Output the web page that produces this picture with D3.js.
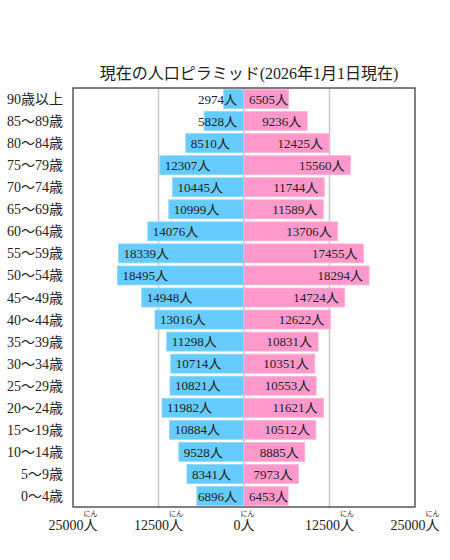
<!DOCTYPE html>
<html><head><meta charset="utf-8">
<script src="https://cdn.jsdelivr.net/npm/d3@7"></script>
<style>
body{margin:0;background:#fff;}
text{font-family:"Liberation Serif","DejaVu Serif","Noto Sans CJK JP",serif;fill:#222;}
</style></head>
<body><svg id="c" width="450" height="560"></svg>
<script>
const titleText = "現在の人口ピラミッド(2026年1月1日現在)";
const categories = ["90歳以上","85～89歳","80～84歳","75～79歳","70～74歳","65～69歳","60～64歳","55～59歳","50～54歳","45～49歳","40～44歳","35～39歳","30～34歳","25～29歳","20～24歳","15～19歳","10～14歳","5～9歳","0～4歳"];
const male = [2974,5828,8510,12307,10445,10999,14076,18339,18495,14948,13016,11298,10714,10821,11982,10884,9528,8341,6896];
const female = [6505,9236,12425,15560,11744,11589,13706,17455,18294,14724,12622,10831,10351,10553,11621,10512,8885,7973,6453];
const tickValues = [-25000,-12500,0,12500,25000];
const tickLabels = ["25000","12500","0","12500","25000"];

const svg = d3.select("#c");
const L=73, R=415, T=88, B=507;
const x = d3.scaleLinear().domain([-25000,25000]).range([L,R]);
const y = d3.scaleBand().domain(categories).range([T,B]).paddingInner(0.14).paddingOuter(0.07);
const cx = x(0);

svg.append("text").attr("x",249).attr("y",79).attr("text-anchor","middle")
  .style("font-size","16px").text(titleText);

// grid
svg.selectAll(".grid").data([-12500,0,12500]).enter().append("line")
  .attr("x1",d=>x(d)).attr("x2",d=>x(d)).attr("y1",T).attr("y2",B)
  .attr("stroke","#c8c8c8").attr("stroke-width",1.5);

// bars
svg.selectAll(".m").data(male).enter().append("rect")
  .attr("x",d=>x(-d)).attr("width",d=>cx-x(-d))
  .attr("y",(d,i)=>y(categories[i])).attr("height",y.bandwidth())
  .attr("fill","#66ccff").attr("stroke","#8ad8ff").attr("stroke-width",0.8);
svg.selectAll(".f").data(female).enter().append("rect")
  .attr("x",cx).attr("width",d=>x(d)-cx)
  .attr("y",(d,i)=>y(categories[i])).attr("height",y.bandwidth())
  .attr("fill","#ff99cc").attr("stroke","#ffb3d9").attr("stroke-width",0.8);

// value labels
const fs = 13;
svg.selectAll(".ml").data(male).enter().append("text")
  .attr("y",(d,i)=>y(categories[i])+y.bandwidth()/2).attr("dy","0.36em")
  .style("font-size",fs+"px").text(d=>d+"人")
  .each(function(d){
    const w=this.getComputedTextLength();
    const xs=Math.min(x(-d)+5, cx-7-w);
    d3.select(this).attr("x",xs);
  });
svg.selectAll(".fl").data(female).enter().append("text")
  .attr("y",(d,i)=>y(categories[i])+y.bandwidth()/2).attr("dy","0.36em")
  .style("font-size",fs+"px").text(d=>d+"人")
  .each(function(d){
    const w=this.getComputedTextLength();
    const xe=Math.max(x(d)-6, cx+5+w);
    d3.select(this).attr("x",xe).attr("text-anchor","end");
  });

// category labels
svg.selectAll(".cat").data(categories).enter().append("text")
  .attr("x",63).attr("y",d=>y(d)+y.bandwidth()/2).attr("dy","0.36em")
  .attr("text-anchor","end").style("font-size","14px").text(d=>d);

// border
svg.append("rect").attr("x",L).attr("y",T).attr("width",R-L).attr("height",B-T)
  .attr("fill","none").attr("stroke","#555").attr("stroke-width",1.5);

// bottom axis
const ax = svg.append("g");
tickValues.forEach((v,i)=>{
  const g = ax.append("g").attr("transform",`translate(${x(v)},0)`);
  const t = g.append("text").attr("y",530).attr("text-anchor","middle").style("font-size","14px");
  t.append("tspan").text(tickLabels[i]);
  const ts = t.append("tspan").text("人");
  const tw = t.node().getComputedTextLength();
  g.append("text").attr("x",tw/2-7).attr("y",516).attr("text-anchor","middle")
    .style("font-size","7px").style("font-family","Noto Sans CJK JP").text("にん");
});
</script></body></html>
